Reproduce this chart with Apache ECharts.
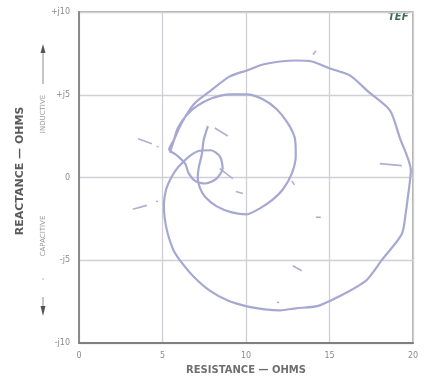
<!DOCTYPE html>
<html>
<head>
<meta charset="utf-8">
<style>
  html, body { margin: 0; padding: 0; background: #ffffff; }
  #chart { width: 425px; height: 380px; }
</style>
<script src="https://cdn.jsdelivr.net/npm/echarts@6/dist/echarts.min.js"></script>
</head>
<body>
<div id="chart"></div>
<script>
// Impedance locus: resistance (ohms) vs reactance (ohms), one continuous sweep
const impedanceCurve = [
  [7.72, 3.11], [7.47, 2.28], [7.35, 1.38], [7.17, 0.60], [7.11, 0.00], [7.23, -0.60],
  [7.53, -1.14], [8.25, -1.74], [9.15, -2.10], [10.05, -2.22], [10.83, -1.86], [11.54, -1.38],
  [12.20, -0.72], [12.74, 0.24], [12.98, 1.32], [12.92, 2.40], [12.50, 3.29], [11.84, 4.13],
  [11.01, 4.73], [10.05, 5.03], [9.03, 5.03], [7.95, 4.79], [7.05, 4.31], [6.39, 3.71],
  [5.92, 2.99], [5.68, 2.28], [5.40, 1.70],
  [5.85, 1.35], [6.35, 0.85], [6.55, 0.30], [6.95, -0.20], [7.55, -0.36], [8.20, -0.10],
  [8.60, 0.55], [8.45, 1.25], [7.90, 1.65], [7.20, 1.62], [6.70, 1.35], [6.25, 0.95],
  [5.80, 0.45], [5.45, -0.15], [5.20, -0.78], [5.08, -1.68], [5.14, -2.51], [5.32, -3.41],
  [5.68, -4.43], [6.21, -5.21], [6.93, -6.05], [7.83, -6.83], [8.91, -7.43], [10.05, -7.78],
  [11.13, -7.96], [12.03, -8.02], [12.98, -7.90], [14.42, -7.72], [17.11, -6.29], [18.14, -4.97],
  [19.33, -3.41], [19.57, -2.10], [19.69, -1.20], [19.87, 0.42], [19.21, 2.40], [18.61, 4.07],
  [17.30, 5.21], [16.22, 6.17], [15.02, 6.59], [13.95, 7.01], [13.00, 7.07], [12.03, 7.01],
  [11.01, 6.83], [10.05, 6.47], [9.03, 6.11], [7.83, 5.21], [6.93, 4.49], [6.21, 3.41],
  [5.74, 2.40], [5.44, 1.50]
];

// Frequency marker ticks placed along the sweep (start and end of each short stroke)
const frequencyMarks = [
  [[3.53, 2.34], [4.37, 2.04]],
  [[4.66, 1.90], [4.76, 1.84]],
  [[3.22, -1.92], [4.06, -1.68]],
  [[4.62, -1.42], [4.72, -1.46]],
  [[8.13, 2.99], [8.91, 2.51]],
  [[8.43, 0.54], [9.21, -0.06]],
  [[9.39, -0.84], [9.81, -0.96]],
  [[12.74, -0.20], [12.90, -0.44]],
  [[14.18, -2.40], [14.48, -2.40]],
  [[12.80, -5.33], [13.34, -5.63]],
  [[11.86, -7.52], [11.98, -7.56]],
  [[14.01, 7.43], [14.19, 7.66]],
  [[18.01, 0.84], [19.33, 0.72]]
];

const xTicks = [0, 5, 10, 15, 20];
const yTickLabels = { '-10': '-j10', '-5': '-j5', '0': '0', '5': '+j5', '10': '+j10' };

const chart = echarts.init(document.getElementById('chart'), null, { renderer: 'canvas' });

const markSeries = frequencyMarks.map(seg => ({
  type: 'line',
  data: seg,
  symbol: 'none',
  silent: true,
  lineStyle: { color: '#aeb0d0', width: 1.6 },
  z: 3
}));

chart.setOption({
  animation: false,
  backgroundColor: '#ffffff',
  grid: {
    left: 79, right: 12, top: 12, bottom: 34,
    show: true, borderColor: '#9a9a9a', borderWidth: 1.5
  },
  xAxis: {
    type: 'value', min: 0, max: 20, interval: 5,
    name: 'RESISTANCE — OHMS', nameLocation: 'middle', nameGap: 21,
    nameTextStyle: { color: '#6f6f6f', fontSize: 10, fontWeight: 'bold', fontFamily: 'DejaVu Sans' },
    axisLine: { show: true, onZero: false, lineStyle: { color: '#7f7f7f', width: 2 } },
    axisTick: { show: false },
    axisLabel: {
      color: '#8a8a8a', fontSize: 8, margin: 9, fontFamily: 'DejaVu Sans',
      formatter: v => xTicks.includes(v) ? String(v) : ''
    },
    splitLine: { show: true, lineStyle: { color: '#cfd0d6', width: 1.3 } }
  },
  yAxis: {
    type: 'value', min: -10, max: 10, interval: 5,
    axisLine: { show: true, onZero: false, lineStyle: { color: '#8a8a8a', width: 2 } },
    axisTick: { show: false },
    axisLabel: {
      color: '#8a8a8a', fontSize: 8, margin: 9, fontFamily: 'DejaVu Sans',
      formatter: v => yTickLabels[String(v)] || ''
    },
    splitLine: { show: true, lineStyle: { color: '#cfd0d6', width: 1.3 } }
  },
  graphic: [
    { type: 'text', left: 388, top: 12, style: { text: 'TEF', fill: '#3f6b52', font: 'italic bold 10px "DejaVu Sans"' } },
    // Reactance axis title
    { type: 'text', x: 20, y: 171, rotation: Math.PI / 2, style: { text: 'REACTANCE — OHMS', fill: '#5a5a5a', font: 'bold 11px "DejaVu Sans"', align: 'center', verticalAlign: 'middle' } },
    // Inductive direction indicator
    { type: 'text', x: 43, y: 114, rotation: Math.PI / 2, style: { text: 'INDUCTIVE', fill: '#9a9a9a', font: '7px "DejaVu Sans"', align: 'center', verticalAlign: 'middle' } },
    { type: 'line', shape: { x1: 43, y1: 52, x2: 43, y2: 84 }, style: { stroke: '#8a8a8a', lineWidth: 1 } },
    { type: 'polygon', shape: { points: [[40.5, 53], [43, 44], [45.5, 53]] }, style: { fill: '#555555' } },
    // Capacitive direction indicator
    { type: 'text', x: 43, y: 236, rotation: Math.PI / 2, style: { text: 'CAPACITIVE', fill: '#9a9a9a', font: '7px "DejaVu Sans"', align: 'center', verticalAlign: 'middle' } },
    { type: 'circle', shape: { cx: 43, cy: 279, r: 0.8 }, style: { fill: '#aaaaaa' } },
    { type: 'line', shape: { x1: 43, y1: 297, x2: 43, y2: 308 }, style: { stroke: '#8a8a8a', lineWidth: 1 } },
    { type: 'polygon', shape: { points: [[40.5, 306], [43, 316], [45.5, 306]] }, style: { fill: '#555555' } }
  ],
  series: [
    {
      type: 'line',
      data: impedanceCurve,
      symbol: 'none',
      smooth: 0.25,
      silent: true,
      lineStyle: { color: '#a6a8d2', width: 2.2 },
      z: 4
    }
  ].concat(markSeries)
});
</script>
</body>
</html>
